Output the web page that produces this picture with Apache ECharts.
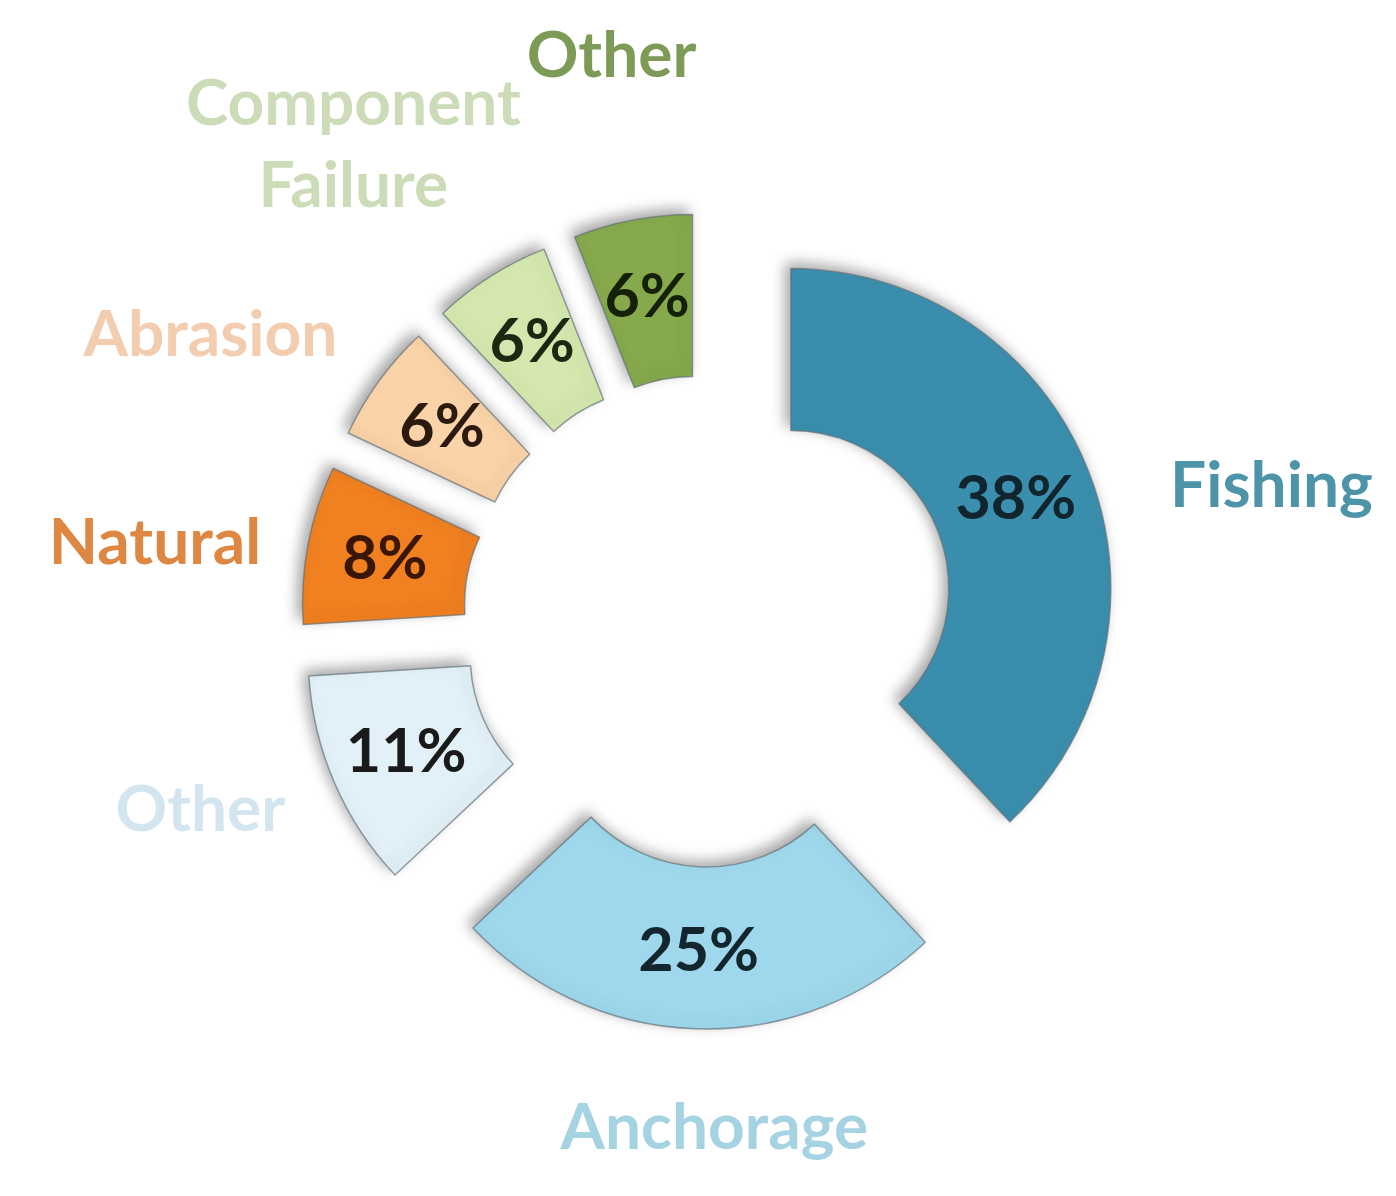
<!DOCTYPE html>
<html>
<head>
<meta charset="utf-8">
<script src="https://cdn.jsdelivr.net/npm/echarts@6/dist/echarts.min.js"></script>
<style>
  html, body { margin: 0; padding: 0; background: #ffffff; }
  #chart { width: 1396px; height: 1196px; }
</style>
</head>
<body>
<div id="chart"></div>
<script>
// ---- data ----
const categories = ['Fishing', 'Anchorage', 'Other', 'Natural', 'Abrasion', 'Component\nFailure', 'Other'];
const shares = [38, 25, 11, 8, 6, 6, 6];

// ---- styles ----
const sliceColors = ['#3b8fae', '#9fd8ec', '#e2f1f8', '#f08020', '#fbd3a8', '#d4e8ae', '#86a94c'];
const valueColors = ['#10252d', '#14262d', '#1a1a1a', '#3a1606', '#2b1a0e', '#1c2812', '#142008'];
const nameColors  = ['#4d94a8', '#a6d3e2', '#d3e5ee', '#dd8742', '#f3cdb0', '#ccdcb8', '#7e9a57'];
// small nudges of the outer name labels [dx, dy] in px
const nameNudges = [[39, 73], [23, -55], [8, -34], [-1, 28], [-43, 45], [-54, 0], [8, -12]];

const FONT = 'Lato, "Open Sans", sans-serif';
const center = [709, 621];

const chart = echarts.init(document.getElementById('chart'), null, { renderer: 'canvas' });

const sliceData = categories.map((n, i) => ({
  name: n,
  value: shares[i],
  selected: true,
  itemStyle: { color: sliceColors[i] },
  label: { color: valueColors[i] }
}));

const nameData = categories.map((n, i) => {
  const dx = nameNudges[i][0], dy = nameNudges[i][1];
  const lbl = {
    color: nameColors[i],
    padding: [0, Math.max(-2 * dx, 0), 0, Math.max(2 * dx, 0)]
  };
  if (dy > 0) { lbl.formatter = '\n{b}'; lbl.lineHeight = 2 * dy; }
  else if (dy < 0) { lbl.formatter = '{b}\n'; lbl.lineHeight = -2 * dy; }
  return { name: n, value: shares[i], label: lbl };
});

const border = {
  borderColor: 'rgba(95,110,120,0.65)',
  borderWidth: 1.5,
  shadowBlur: 14,
  shadowColor: 'rgba(0,0,0,0.35)',
  shadowOffsetX: -5,
  shadowOffsetY: -5
};

chart.setOption({
  backgroundColor: '#ffffff',
  animation: false,
  series: [
    {
      type: 'pie',
      center: center,
      radius: [158, 320],
      startAngle: 90,
      clockwise: true,
      selectedMode: 'multiple',
      selectedOffset: 88,
      avoidLabelOverlap: false,
      labelLayout: { hideOverlap: false },
      itemStyle: border,
      select: { itemStyle: border },
      emphasis: { disabled: true },
      label: {
        show: true,
        position: 'inside',
        formatter: '{c}%',
        fontFamily: FONT,
        fontWeight: 'bold',
        fontSize: 61
      },
      labelLine: { show: false },
      data: sliceData
    },
    {
      type: 'pie',
      center: center,
      radius: [380, 740],
      startAngle: 90,
      clockwise: true,
      silent: true,
      avoidLabelOverlap: false,
      labelLayout: { hideOverlap: false },
      minShowLabelAngle: 0,
      itemStyle: { color: 'rgba(0,0,0,0)' },
      emphasis: { disabled: true },
      label: {
        show: true,
        position: 'inside',
        formatter: '{b}',
        overflow: 'none',
        fontFamily: FONT,
        fontWeight: 'bold',
        fontSize: 64,
        lineHeight: 82
      },
      labelLine: { show: false },
      data: nameData
    }
  ]
});
</script>
</body>
</html>
